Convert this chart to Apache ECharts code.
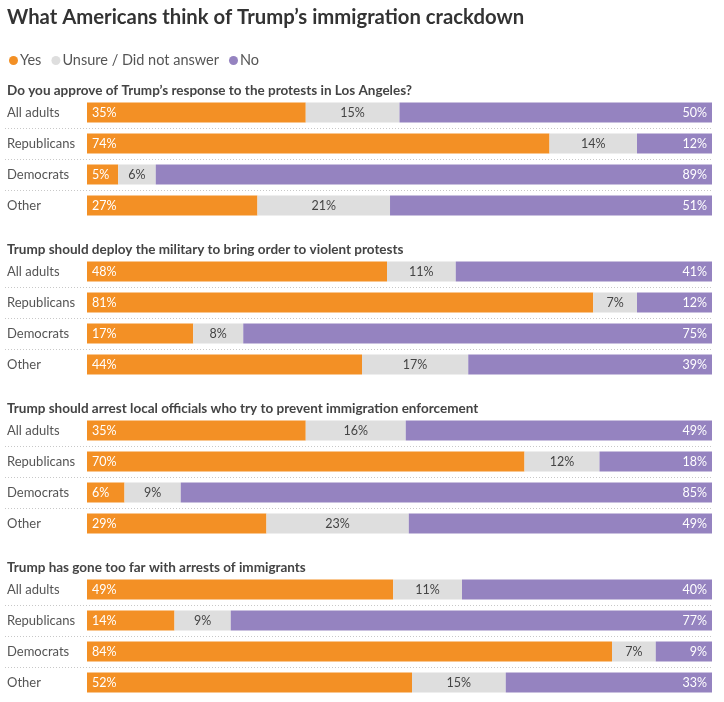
<!DOCTYPE html>
<html>
<head>
<meta charset="utf-8">
<script src="https://cdn.jsdelivr.net/npm/echarts@6/dist/echarts.min.js"></script>
<style>
html,body{margin:0;padding:0;background:#fff;}
#chart{width:724px;height:702px;}
</style>
</head>
<body>
<div id="chart"></div>
<script>
var groups = ['All adults', 'Republicans', 'Democrats', 'Other'];
var questions = [
  'Do you approve of Trump\u2019s response to the protests in Los Angeles?',
  'Trump should deploy the military to bring order to violent protests',
  'Trump should arrest local officials who try to prevent immigration enforcement',
  'Trump has gone too far with arrests of immigrants'
];
var seriesNames = ['Yes', 'Unsure / Did not answer', 'No'];
// per question: values for [All adults, Republicans, Democrats, Other]
var yesValues = [
  [35, 74, 5, 27],
  [48, 81, 17, 44],
  [35, 70, 6, 29],
  [49, 14, 84, 52]
];
var unsureValues = [
  [15, 14, 6, 21],
  [11, 7, 8, 17],
  [16, 12, 9, 23],
  [11, 9, 7, 15]
];
var noValues = [
  [50, 12, 89, 51],
  [41, 12, 75, 39],
  [49, 18, 85, 49],
  [40, 77, 9, 33]
];

var COLORS = ['#f39025', '#dedede', '#9583c0'];
var FONT = 'Lato';
var chart = echarts.init(document.getElementById('chart'));

var panelTops = [97, 256, 415, 574];
var rowPitch = 31;
var labelMin = -13.12;

var grids = [], xAxes = [], yAxes = [], series = [];
var titles = [{
  text: 'What Americans think of Trump\u2019s immigration crackdown',
  left: 7, top: 7, padding: 0,
  textStyle: {fontFamily: FONT, fontSize: 20.3, fontWeight: 'bold', color: '#333'}
}];

questions.forEach(function (q, qi) {
  titles.push({
    text: q, left: 7, top: panelTops[qi] - 13, padding: 0,
    textStyle: {fontFamily: FONT, fontSize: 13.5, fontWeight: 'bold', color: '#444'}
  });
  grids.push({left: 5, right: 12, top: panelTops[qi], height: rowPitch * groups.length});
  xAxes.push({
    gridIndex: qi, type: 'value', min: labelMin, max: 100, show: false
  });
  yAxes.push({
    gridIndex: qi, type: 'category', data: groups, inverse: true,
    axisLine: {show: false}, axisTick: {show: false},
    axisLabel: {inside: true, margin: 2, align: 'left', fontFamily: FONT, fontSize: 13, color: '#555'},
    splitLine: {show: true, showMinLine: false, showMaxLine: false,
      lineStyle: {type: [1, 2], color: '#c8c8c8', width: 1}}
  });
  var sets = [yesValues[qi], unsureValues[qi], noValues[qi]];
  var sums = groups.map(function (g, gi) { return sets[0][gi] + sets[1][gi] + sets[2][gi]; });
  sets.forEach(function (vals, si) {
    series.push({
      name: seriesNames[si], type: 'bar', stack: 'q' + qi,
      xAxisIndex: qi, yAxisIndex: qi,
      barWidth: 20,
      itemStyle: {color: COLORS[si]},
      label: {
        show: true,
        position: si === 0 ? 'insideLeft' : (si === 1 ? 'inside' : 'insideRight'),
        distance: 5,
        fontFamily: FONT, fontSize: 12.5,
        color: si === 1 ? '#444' : '#fff',
        formatter: function (p) { return p.data.raw + '%'; }
      },
      emphasis: {disabled: true},
      data: vals.map(function (v, gi) { return {value: v / sums[gi] * 100, raw: v}; })
    });
  });
});

chart.setOption({
  animation: false,
  color: COLORS,
  title: titles,
  legend: {
    data: seriesNames, left: 4, top: 48,
    icon: 'circle', itemWidth: 9, itemHeight: 9, itemGap: 10,
    selectedMode: false,
    textStyle: {fontFamily: FONT, fontSize: 14.5, color: '#555', padding: [0, 0, 0, -3]}
  },
  grid: grids, xAxis: xAxes, yAxis: yAxes, series: series
});
</script>
</body>
</html>
